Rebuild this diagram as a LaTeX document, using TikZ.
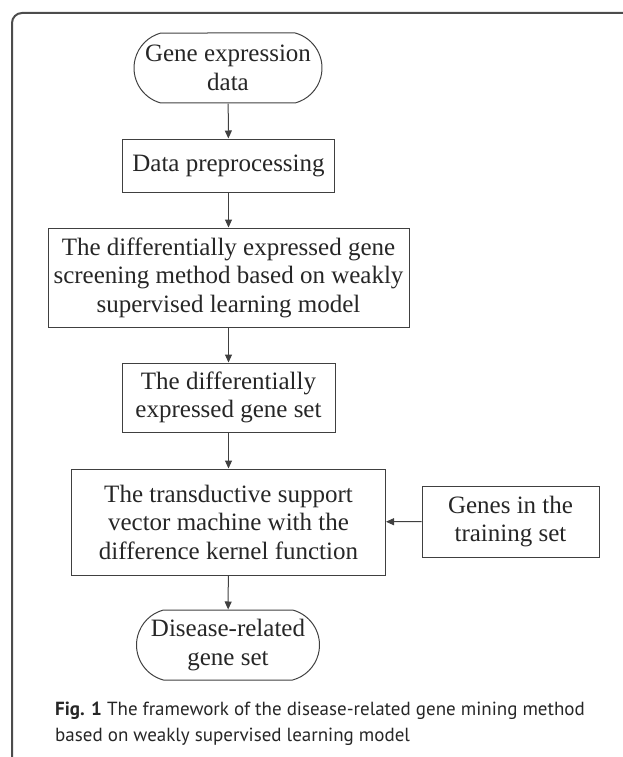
\documentclass[tikz,border=0pt]{standalone}
\usepackage{fontspec}
\setmainfont{Liberation Serif}
\newfontfamily\capfont{PT Sans}
\usetikzlibrary{arrows.meta,shapes.misc}

\begin{document}
\begin{tikzpicture}[x=1pt, y=-1pt,
		every node/.style={font=\fontsize{25}{28.5}\selectfont, text=black!85},
		stepbox/.style={draw=black!75, line width=1pt, align=center, inner sep=0pt},
		termbox/.style={stepbox, rounded rectangle, rounded rectangle arc length=150},
		flow/.style={draw=black!75, line width=1pt, -{Triangle[length=8pt,width=7pt]}}]
			%%%%% START %%%%%
			\useasboundingbox (0, 0) rectangle (623, 757);
			\draw[draw=black!70, line width=2pt, rounded corners=10pt] (12, 757) -- (12, 13) -- (623, 13);
			
			\node[termbox, minimum width=188pt, minimum height=70pt] (gene) at (228, 68) {Gene expression\\data};
			\node[stepbox, minimum width=212pt, minimum height=53pt] (prep) at (228.5, 165.5) {Data preprocessing};
			\node[stepbox, minimum width=361pt, minimum height=99pt] (screen) at (228.5, 277.5) {The differentially expressed gene\\screening method based on weakly\\supervised learning model};
			\node[stepbox, minimum width=213pt, minimum height=69pt] (degset) at (228.5, 397.5) {The differentially\\expressed gene set};
			\node[stepbox, minimum width=314pt, minimum height=106pt] (tsvm) at (228.5, 522) {The transductive support\\vector machine with the\\difference kernel function};
			\node[stepbox, minimum width=177pt, minimum height=71pt] (train) at (510.5, 521.5) {Genes in the\\training set};
			\node[termbox, minimum width=183pt, minimum height=70pt] (disease) at (228, 645) {Disease-related\\gene set};
			
			\draw[flow] (gene) -- (prep);
			\draw[flow] (prep) -- (screen);
			\draw[flow] (screen) -- (degset);
			\draw[flow] (degset) -- (tsvm);
			\draw[flow] (tsvm) -- (disease);
			\draw[flow] (train) -- (tsvm);
			
			\node[anchor=north west, align=left, inner sep=0pt, font=\capfont\fontsize{19}{26}\selectfont] (caption) at (55, 702) {\textbf{Fig. 1} The framework of the disease-related gene mining method\\based on weakly supervised learning model};
			%%%%% END %%%%%
		\end{tikzpicture}
\end{document}
